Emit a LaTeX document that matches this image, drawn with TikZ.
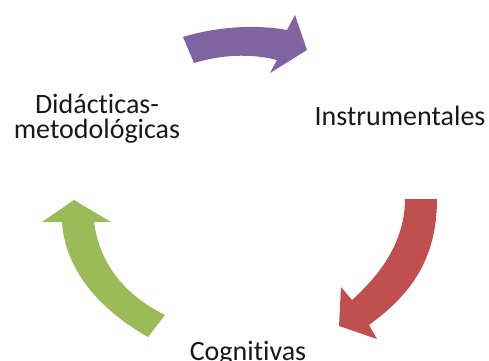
\documentclass[tikz,border=0pt]{standalone}
\usepackage{fontspec}
\setmainfont{Carlito}[Ligatures=NoCommon]
\definecolor{cpurple}{HTML}{8064A2}
\definecolor{cred}{HTML}{C0504D}
\definecolor{cgreen}{HTML}{9BBB59}
\begin{document}
\begin{tikzpicture}[x=1pt,y=-1pt,
  lbl/.style={inner sep=0pt,font=\fontsize{28}{25}\selectfont,text=black!90,align=center}]
\useasboundingbox (0,0) rectangle (489,360);
\clip (0,0) rectangle (489,360);
% purple arrow
\fill[cpurple] (183,37) .. controls (215,27) and (255,24) .. (287,30) -- (295,15) -- (307,50) -- (270,73) -- (277,60) .. controls (250,53) and (220,55) .. (194,63) -- cycle;
% red arrow
\fill[cred] (405,199) -- (437,199) .. controls (437,260) and (410,295) .. (369,325) -- (377,339) -- (339,326) -- (341,287) -- (352,300) .. controls (382,273) and (405,240) .. (405,199) -- cycle;
% green arrow
\fill[cgreen] (74,200) -- (111,222) -- (94,222) .. controls (100,265) and (125,295) .. (165,315) -- (148,337) .. controls (100,310) and (65,270) .. (62,222) -- (42,222) -- cycle;
% labels
\node[lbl,anchor=base] (instr) at (400,125) {Instrumentales};
\node[lbl,anchor=base] (cogn) at (248,360) {Cognitivas};
\node[lbl,anchor=base] (dida) at (97,138) {Didácticas-\\metodológicas};
\end{tikzpicture}
\end{document}
